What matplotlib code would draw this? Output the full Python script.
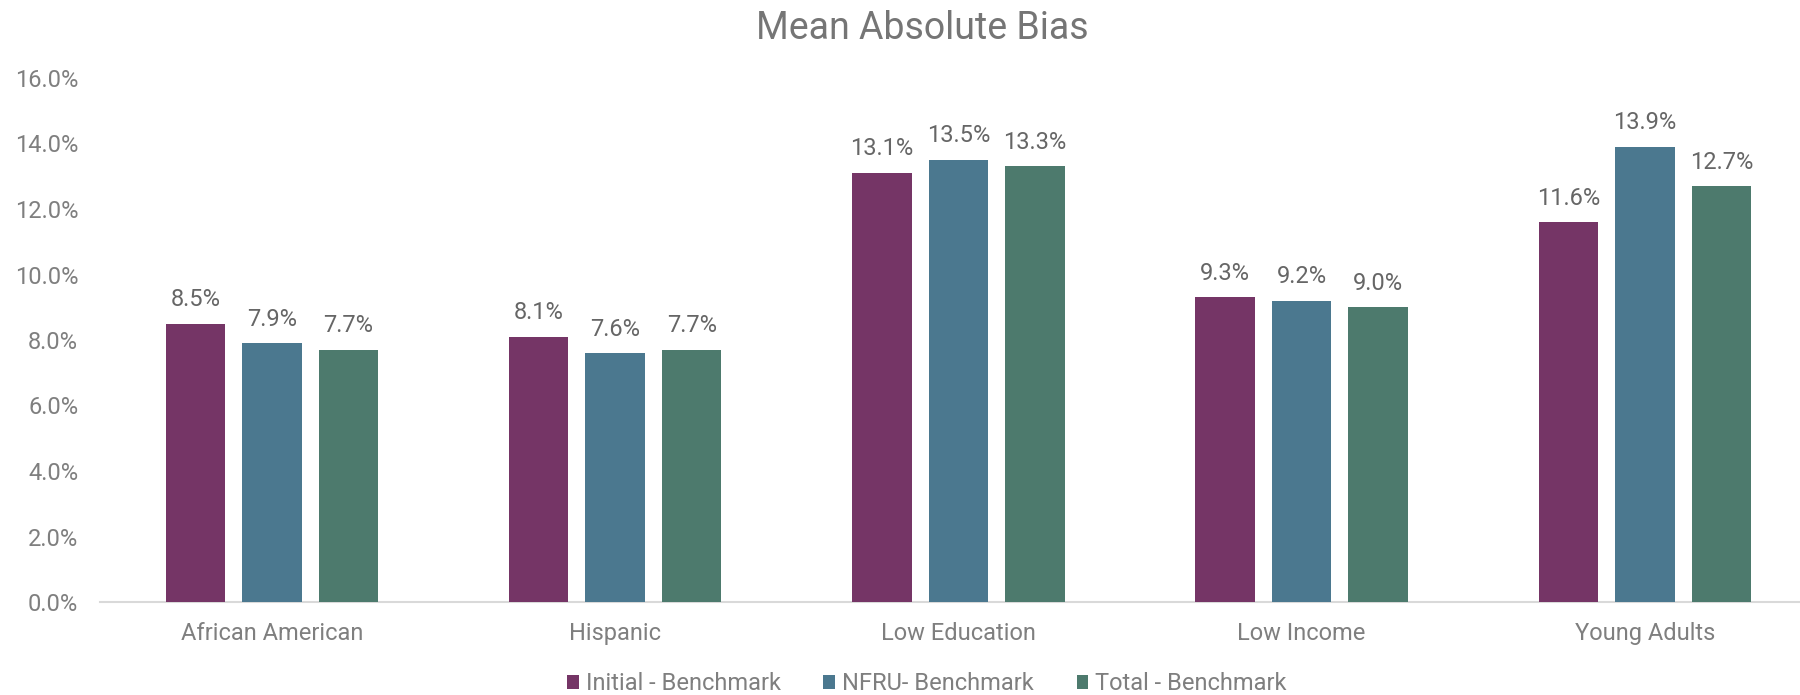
import matplotlib
matplotlib.use("Agg")
import matplotlib.pyplot as plt
import numpy as np
from matplotlib.patches import Patch
from matplotlib.ticker import FuncFormatter

plt.rcParams["font.family"] = ["Roboto", "DejaVu Sans"]

categories = ["African American", "Hispanic", "Low Education", "Low Income", "Young Adults"]
series_names = ["Initial - Benchmark", "NFRU- Benchmark", "Total - Benchmark"]
initial = [8.5, 8.1, 13.1, 9.3, 11.6]
nfru = [7.9, 7.6, 13.5, 9.2, 13.9]
total = [7.7, 7.7, 13.3, 9.0, 12.7]
y_ticks = [0, 2, 4, 6, 8, 10, 12, 14, 16]

colors = ["#753566", "#4B788F", "#4D7A6D"]
TEXT_GREY = "#7F7F7F"
LABEL_GREY = "#666666"

fig = plt.figure(figsize=(18, 6.95), dpi=100)
# axes spans slightly past the right edge, like the source chart
ax = fig.add_axes([100.4 / 1800, 93 / 695, 1716 / 1800, 524 / 695])

x = np.arange(len(categories))
width = 0.1734
step = 0.223
for i, (vals, col) in enumerate(zip([initial, nfru, total], colors)):
    bars = ax.bar(x + (i - 1) * step, vals, width, color=col, zorder=3)
    for b, v in zip(bars, vals):
        ax.annotate(f"{v:.1f}%", (b.get_x() + b.get_width() / 2, v),
                    xytext=(0, 9), textcoords="offset points",
                    ha="center", va="bottom", fontsize=17, color=LABEL_GREY)

ax.set_xlim(-0.5, len(categories) - 0.5)
ax.set_ylim(0, 16)
ax.set_yticks(y_ticks)
ax.yaxis.set_major_formatter(FuncFormatter(lambda v, _: f"{v:.1f}%"))
ax.set_xticks(x)
ax.set_xticklabels(categories)
ax.tick_params(axis="y", length=0, pad=16, labelsize=17, labelcolor=TEXT_GREY)
ax.tick_params(axis="x", length=0, pad=14.5, labelsize=17, labelcolor=TEXT_GREY)

for side in ["top", "right", "left"]:
    ax.spines[side].set_visible(False)
ax.spines["bottom"].set_color("#D9D9D9")
ax.spines["bottom"].set_linewidth(1.5)

fig.text(922 / 1800, 1 - 39 / 695, "Mean Absolute Bias", ha="center", va="baseline",
         fontsize=27, color="#757575")

handles = [Patch(facecolor=c, edgecolor="none") for c in colors]
fig.legend(handles, series_names, loc="center", bbox_to_anchor=(0.515, 1 - 684 / 695),
           ncol=3, frameon=False, fontsize=17, labelcolor=TEXT_GREY,
           handlelength=0.5, handleheight=0.5, handletextpad=0.3, columnspacing=1.8)

fig.savefig("out.png", dpi=100)
